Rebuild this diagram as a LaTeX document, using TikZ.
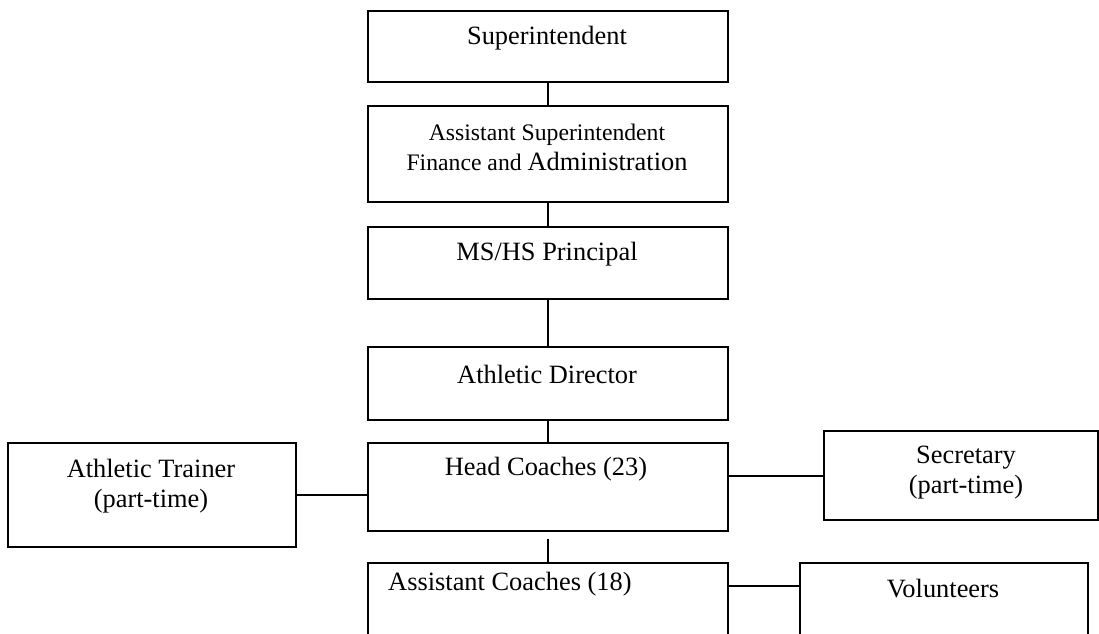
\documentclass[tikz,border=0pt]{standalone}
\usepackage{fontspec}
\setmainfont{Liberation Serif}
\begin{document}
\begin{tikzpicture}[x=1pt,y=-1pt,
  box/.style={draw,line width=2.2pt,anchor=north west,inner sep=0pt,
              minimum width=#1,minimum height=0pt},
  lbl/.style={font=\fontsize{26.4}{30}\selectfont,align=center,inner sep=0pt},
  link/.style={line width=2.2pt}]
\useasboundingbox (0,0) rectangle (1099,633);
\clip (0,0) rectangle (1099,633);

% boxes of the reporting chain (px coordinates, y downward)
\node[box=360pt,minimum height=71pt] (sup) at (367,10) {};
\node[box=360pt,minimum height=96pt] (asup) at (367,105) {};
\node[box=360pt,minimum height=72pt] (prin) at (367,226) {};
\node[box=360pt,minimum height=73pt] (ad) at (367,346) {};
\node[box=360pt,minimum height=88pt] (hc) at (367,442) {};
\node[box=360pt,minimum height=80pt] (ac) at (367,562) {};
\node[box=288pt,minimum height=104pt] (at) at (7,442) {};
\node[box=274pt,minimum height=89pt] (sec) at (823,430) {};
\node[box=288pt,minimum height=80pt] (vol) at (799,562) {};

% labels
\node[lbl] (tsup) at (547,38) {Superintendent};
\node[lbl] (tasup) at (547,147) {{\fontsize{23.7}{30}\selectfont Assistant Superintendent}\\
  {\fontsize{23.7}{30}\selectfont Finance and }Administration};
\node[lbl] (tprin) at (547,254) {MS/HS Principal};
\node[lbl] (tad) at (547,374) {Athletic Director};
\node[lbl] (thc) at (546,469) {Head Coaches (23)};
\node[lbl,anchor=west] (tac) at (388,584) {Assistant Coaches (18)};
\node[lbl] (tat) at (151,486) {Athletic Trainer\\(part-time)};
\node[lbl] (tsec) at (966,473) {Secretary\\(part-time)};
\node[lbl] (tvol) at (943,589) {Volunteers};

% connectors
\draw[link] (sup.south) -- (asup.north);
\draw[link] (asup.south) -- (prin.north);
\draw[link] (prin.south) -- (ad.north);
\draw[link] (ad.south) -- (hc.north);
\draw[link] ([yshift=-7pt]hc.south) -- (ac.north);
\draw[link] (at.east) -- (at.east -| hc.west);
\draw[link] (hc.east |- sec.west) -- (sec.west);
\draw[link] (ac.east |- 0,586) coordinate (acr) -- (acr -| vol.west);
\end{tikzpicture}
\end{document}
